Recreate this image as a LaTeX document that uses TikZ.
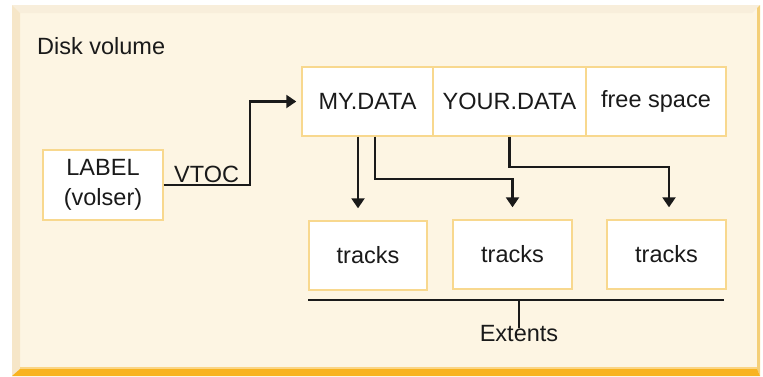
\documentclass[tikz,border=0pt]{standalone}
\usepackage{fontspec}
\setmainfont{Liberation Sans}
\usetikzlibrary{arrows.meta,calc}

\definecolor{panelbg}{HTML}{FDF5E3}
\definecolor{paneltop}{HTML}{F8EEDB}
\definecolor{panelleft}{HTML}{F6E6C8}
\definecolor{panelright}{HTML}{F4CF78}
\definecolor{panelbottom}{HTML}{F8B320}
\definecolor{boxedge}{HTML}{F8D88E}
\definecolor{ink}{HTML}{1A1A1A}

\tikzset{
  every node/.style={font=\fontsize{23.5}{27}\selectfont, text=ink},
  box/.style={draw=boxedge, line width=1.4pt, fill=white, inner sep=0pt},
  arr/.style={draw=ink, line width=2.2pt,
    -{Triangle[width=13pt,length=10pt]}},
  bar/.style={draw=ink, line width=2.2pt},
}

\begin{document}
\begin{tikzpicture}[x=1pt,y=-1pt]
  \useasboundingbox (0,0) rectangle (763,376);

  % bevelled frame of the volume panel
  \fill[panelbg] (12,5) rectangle (760,376);
  \fill[paneltop] (12,5) -- (760,5) -- (752,13) -- (20,13) -- cycle;
  \fill[panelleft] (12,5) -- (20,13) -- (20,369) -- (12,376) -- cycle;
  \fill[panelright] (760,5) -- (757,8) -- (757,369) -- (760,376) -- cycle;
  \fill[panelbottom!55] (20,367) rectangle (757,369);
  \fill[panelbottom] (12,376) -- (20,369) -- (757,369) -- (760,376) -- cycle;

  \node[anchor=west, inner sep=0pt] (title) at (37,46) {Disk volume};

  % label record
  \node[box, minimum width=120pt, minimum height=70pt, align=center]
    (lab) at (103,185) {LABEL\\[3pt](volser)};

  % data sets in the VTOC
  \node[box, minimum width=131pt, minimum height=69pt] (my)   at (367.5,101.5) {MY.DATA};
  \node[box, minimum width=153pt, minimum height=69pt] (your) at (509.5,101.5) {YOUR.DATA};
  \node[box, minimum width=140pt, minimum height=69pt] (free) at (656,101.5) {free space};

  % extents on the volume
  \node[box, minimum width=118pt, minimum height=69pt] (trk1) at (368,255.5) {tracks};
  \node[box, minimum width=119pt, minimum height=69pt] (trk2) at (512.5,254.5) {tracks};
  \node[box, minimum width=119pt, minimum height=69pt] (trk3) at (666.5,254.5) {tracks};

  % VTOC pointer
  \draw[arr, shorten >=5pt] (lab.east) -- ++(86,0) |- (my.west);
  \node[anchor=south west, inner sep=0pt] (vtoc) at (174,183) {VTOC};

  % data sets to their extents
  \draw[arr, shorten >=12pt] ([xshift=-9.5pt]my.south) -- ([xshift=-10pt]trk1.north);
  \draw[arr, shorten >=12pt] ([xshift=7.5pt]my.south) -- ++(0,42) -| (trk2.north);
  \draw[arr, shorten >=12pt] (your.south) -- ++(0,30) -| ([xshift=2.5pt]trk3.north);

  % brace of extents
  \coordinate (barL) at ([yshift=-9pt]trk1.south west);
  \coordinate (barR) at ([xshift=-3pt,yshift=-10pt]trk3.south east);
  \draw[bar] (barL) -- (barL -| barR);
  \node[inner sep=0pt] (ext) at (519,334) {Extents};
  \draw[bar] (barL -| ext.north) -- ([yshift=-2pt]ext.north);
\end{tikzpicture}
\end{document}
